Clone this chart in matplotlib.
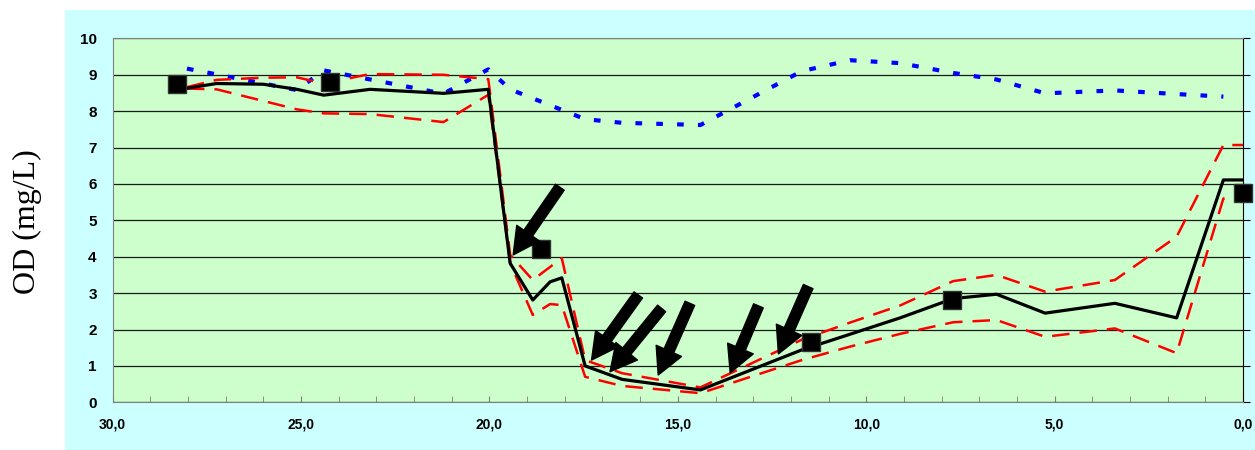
import matplotlib.pyplot as plt
from matplotlib.patches import Rectangle
from matplotlib.ticker import MultipleLocator

# distance (km) of the profile points, shared by the mean and the two bounds
dist = [28.03, 27.24, 26.0, 25.11, 24.40, 23.17, 21.22, 20.03, 19.45, 18.85, 18.39, 18.08, 17.46,
        16.48, 14.40, 11.71, 10.43, 9.10, 7.69, 6.54, 5.25, 3.40, 1.76, 0.52, 0.0]
od_mean = [8.63, 8.76, 8.74, 8.60, 8.44, 8.60, 8.49, 8.60, 3.82, 2.81, 3.31, 3.42, 1.00,
           0.63, 0.34, 1.44, 1.87, 2.32, 2.85, 2.97, 2.45, 2.72, 2.32, 6.11, 6.11]
od_upper = [8.66, 8.86, 8.92, 8.93, 8.76, 9.02, 9.00, 8.88, 4.05, 3.36, 3.72, 3.96, 1.16,
            0.80, 0.41, 1.72, 2.19, 2.66, 3.33, 3.50, 3.04, 3.36, 4.55, 7.07, 7.07]
od_lower = [8.62, 8.60, 8.28, 8.05, 7.94, 7.92, 7.70, 8.45, 3.82, 2.40, 2.70, 2.67, 0.70,
            0.45, 0.25, 1.16, 1.53, 1.88, 2.20, 2.26, 1.80, 2.03, 1.35, 5.60, 5.60]

# saturation curve
dist_sat = [28.03, 25.11, 24.40, 21.22, 20.03, 19.45, 17.46, 16.48, 14.40, 11.71, 10.43,
            9.10, 7.69, 6.54, 5.25, 3.40, 1.76, 0.52]
od_sat = [9.17, 8.58, 9.12, 8.48, 9.15, 8.60, 7.78, 7.68, 7.62, 9.10, 9.40,
          9.32, 9.05, 8.87, 8.49, 8.57, 8.47, 8.40]

# measured points
dist_obs = [28.30, 24.23, 18.63, 11.47, 7.71, 0.0]
od_obs = [8.76, 8.81, 4.21, 1.65, 2.81, 5.74]

# arrows: (tail x, tail y, tip x, tip y)
arrows = [(18.13, 5.91, 19.37, 4.05),
          (16.05, 2.95, 17.29, 1.16),
          (15.43, 2.58, 16.80, 0.84),
          (14.68, 2.72, 15.52, 0.75),
          (12.86, 2.65, 13.61, 0.81),
          (11.54, 3.18, 12.33, 1.33)]

x_ticks = [30, 25, 20, 15, 10, 5, 0]
x_labels = [f"{v:.1f}".replace(".", ",") for v in x_ticks]

fig = plt.figure(figsize=(12.55, 4.5), dpi=100)
fig.patches.append(Rectangle((0.0518, 0), 0.9482, 0.978, transform=fig.transFigure,
                             facecolor="#CCFFFF", edgecolor="none", zorder=0))

ax = fig.add_axes([0.0898, 0.106, 0.9006, 0.8087])
ax.set_zorder(2)
ax.set_facecolor("#CCFFCC")
ax.set_xlim(30, 0)
ax.set_ylim(0, 10)

ax.plot(dist_sat, od_sat, color="#0000FF", lw=3.0, dashes=(1.6, 3.4), zorder=3)
ax.plot(dist, od_upper, color="#FF0000", lw=1.8, dashes=(7, 4), zorder=3)
ax.plot(dist, od_lower, color="#FF0000", lw=1.8, dashes=(7, 4), zorder=3)
ax.plot(dist, od_mean, color="black", lw=2.3, zorder=4)
ax.plot(dist_obs, od_obs, "s", ms=13.5, color="black", mec="#333333", ls="none",
        zorder=5, clip_on=False)

for x0, y0, x1, y1 in arrows:
    ax.annotate("", xy=(x1, y1), xytext=(x0, y0),
                arrowprops=dict(facecolor="black", edgecolor="black", width=7.5,
                                headwidth=20, headlength=19, shrink=0),
                zorder=6)

ax.set_xticks(x_ticks)
ax.set_xticklabels(x_labels, fontsize=10, fontweight="bold", family="Liberation Sans")
ax.xaxis.set_minor_locator(MultipleLocator(1))
ax.tick_params(axis="x", which="both", direction="in", length=4, color="#808080", pad=11)

ax.set_yticks(range(11))
ax.set_yticklabels([str(v) for v in range(11)], fontsize=11, fontweight="bold",
                   family="Liberation Sans")
ax.tick_params(axis="y", left=False, right=True, direction="out", length=5,
               color="black", pad=6.5)

ax.yaxis.grid(True, color="#1a1a1a", lw=0.9)
ax.set_axisbelow(True)
for side in ["top", "left", "bottom"]:
    ax.spines[side].set_color("#808080")
ax.spines["right"].set_color("black")

fig.text(27 / 1255, 1 - 222 / 450, "OD (mg/L)", rotation=90, ha="center", va="center",
         fontsize=23, family="Liberation Serif")

fig.savefig("out.png", dpi=100)
